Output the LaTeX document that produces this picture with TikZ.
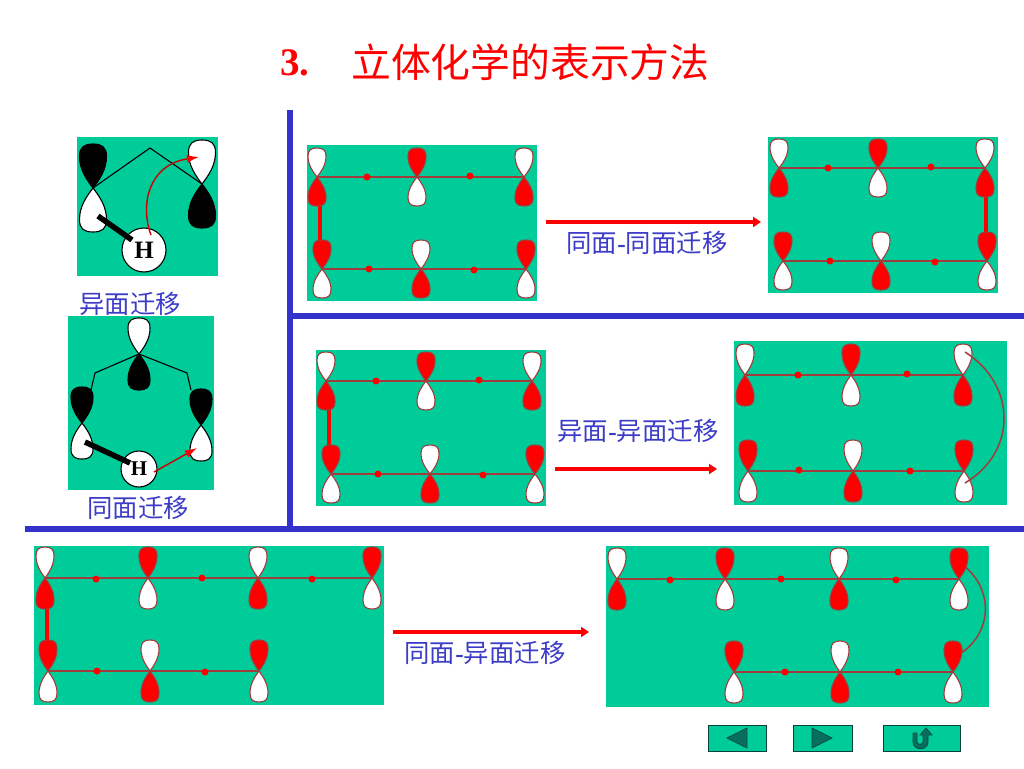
\documentclass[tikz,border=0pt]{standalone}
\usepackage{fontspec}
\setmainfont{Liberation Serif}
\newfontfamily\cjk{Noto Sans CJK SC}
\usetikzlibrary{arrows.meta}
\definecolor{panelgreen}{RGB}{0,204,153}
\definecolor{barblue}{RGB}{51,51,204}
\definecolor{lblblue}{RGB}{60,60,200}
\definecolor{orbred}{RGB}{255,0,0}
\definecolor{pibrown}{RGB}{160,60,60}
\definecolor{btndark}{RGB}{10,110,95}
\tikzset{
  panel/.style={fill=panelgreen,draw=none},
  bar/.style={draw=barblue,line width=6pt},
  pibond/.style={draw=pibrown,line width=1.5pt},
  sigmared/.style={draw=orbred,line width=4.5pt},
  dotnode/.style={circle,fill=orbred,draw=none,inner sep=0pt,minimum size=7pt},
  lobeline/.style={draw=pibrown,line width=1.1pt},
  blackline/.style={draw=black,line width=1.1pt},
  hbar/.style={draw=black,line width=5.5pt},
  hatom/.style={circle,fill=white,draw=black,line width=1.1pt,inner sep=0pt,font=\bfseries},
  redmove/.style={draw=orbred!80!black,line width=1.4pt,-{Latex[length=12pt,width=8pt,color=orbred]}},
  bigarrow/.style={draw=orbred,line width=3.2pt,-{Triangle[length=8pt,width=10pt]}},
  lbl/.style={inner sep=0pt,text=lblblue,font=\fontsize{25.4}{25.4}\selectfont\cjk},
  btn/.style={fill=panelgreen,draw=btndark!60!black,line width=1pt},
  btnmark/.style={fill=btndark,draw=btndark!70!black,line width=.8pt}
}
% lobe in unit coordinates, pointing up (y axis is downwards)
\newcommand{\lobepath}{(0,0) .. controls (-.5,-.2) and (-1,-.42) .. (-1,-.72) .. controls (-1,-.93) and (-.65,-1) .. (0,-1) .. controls (.65,-1) and (1,-.93) .. (1,-.72) .. controls (1,-.42) and (.5,-.2) .. (0,0) -- cycle}
\def\orbw{9}\def\orbh{29}\def\orbline{lobeline}
% \orb{name}{x}{y}{top colour}{bottom colour}
\newcommand{\orb}[5]{%
  \coordinate (#1) at (#2,#3);
  \path[\orbline,fill=#4,shift={(#2,#3)},xscale=\orbw,yscale=\orbh] \lobepath;
  \path[\orbline,fill=#5,shift={(#2,#3)},xscale=\orbw,yscale=-\orbh] \lobepath;
}
\begin{document}
\begin{tikzpicture}[x=1pt,y=-1pt]
\useasboundingbox (0,0) rectangle (1024,768);
\fill[white] (0,0) rectangle (1024,768);

% title
\node[inner sep=0pt,anchor=west,text=orbred,font=\fontsize{39}{39}\selectfont\bfseries] (title3) at (280,63) {3.};
\node[inner sep=0pt,anchor=west,text=orbred,font=\fontsize{39.8}{40}\selectfont\cjk] (title) at (351,62) {立体化学的表示方法};

% dividing bars
\coordinate (v1) at (290,110); \coordinate (v2) at (290,527);
\coordinate (h1) at (293,316); \coordinate (h2) at (1024,316);
\coordinate (h3) at (25,529);  \coordinate (h4) at (1024,529);
\draw[bar] (v1) -- (v2);
\draw[bar] (h1) -- (h2);
\draw[bar] (h3) -- (h4);

% left panel A
\fill[panel] (77,137) rectangle (218,276);
\def\orbline{blackline}
\coordinate (ra) at (150,148);
\def\orbw{13.5}\def\orbh{44}
\orb{la}{93}{188}{black}{white}
\orb{lb}{202}{184}{white}{black}
\draw[blackline] (la) -- (ra) -- (lb);
\node[hatom,minimum size=44pt,font=\fontsize{25}{25}\selectfont\bfseries] (ha) at (144,250) {H};
\coordinate (bara) at (98,216); \coordinate (barb) at (132,240);
\draw[hbar] (bara) -- (barb);
\coordinate (mva) at (151,235); \coordinate (mvb) at (199,157);
\draw[redmove] (mva) .. controls (140,205) and (148,165) .. (mvb);
\node[lbl] (tA) at (130,304) {异面迁移};

% left panel B
\fill[panel] (68,316) rectangle (214,490);
\def\orbw{11}\def\orbh{36}
\orb{tb}{139}{354}{white}{black}
\orb{lc}{82}{423}{black}{white}
\orb{rc}{201}{425}{black}{white}
\coordinate (k1) at (95,373); \coordinate (k2) at (91,390);
\coordinate (k3) at (187,373); \coordinate (k4) at (191,390);
\draw[blackline] (tb) -- (k1) -- (k2);
\draw[blackline] (tb) -- (k3) -- (k4);
\node[hatom,minimum size=36pt,font=\fontsize{21}{21}\selectfont\bfseries] (hb) at (139,469) {H};
\coordinate (barc) at (85,442); \coordinate (bard) at (130,463);
\draw[hbar] (barc) -- (bard);
\coordinate (mvc) at (154,472); \coordinate (mvd) at (197,448);
\draw[redmove] (mvc) -- (mvd);
\node[lbl] (tB) at (138,508) {同面迁移};

\def\orbline{lobeline}
% panel 1
\fill[panel] (307,145) rectangle (537,301);
\coordinate (s1a) at (320,190); \coordinate (s1b) at (320,255);
\draw[sigmared] (s1a) -- (s1b);
\def\orbw{9}\def\orbh{29}
\orb{a1}{317}{177}{white}{orbred}
\orb{a2}{417}{177}{orbred}{white}
\orb{a3}{524}{177}{white}{orbred}
\orb{b1}{322}{269}{orbred}{white}
\orb{b2}{421}{269}{white}{orbred}
\orb{b3}{526}{269}{orbred}{white}
\draw[pibond] (a1) -- (a2) -- (a3);
\draw[pibond] (b1) -- (b2) -- (b3);
\node[dotnode] (ad1) at (367,177) {}; \node[dotnode] (ad2) at (470,176) {};
\node[dotnode] (bd1) at (369,269) {}; \node[dotnode] (bd2) at (474,270) {};

% panel 2
\fill[panel] (768,137) rectangle (998,293);
\coordinate (s2a) at (986,182); \coordinate (s2b) at (986,247);
\draw[sigmared] (s2a) -- (s2b);
\orb{c1}{779}{168}{white}{orbred}
\orb{c2}{878}{168}{orbred}{white}
\orb{c3}{985}{168}{white}{orbred}
\orb{d1}{783}{261}{orbred}{white}
\orb{d2}{881}{261}{white}{orbred}
\orb{d3}{987}{261}{orbred}{white}
\draw[pibond] (c1) -- (c2) -- (c3);
\draw[pibond] (d1) -- (d2) -- (d3);
\node[dotnode] (cd1) at (828,168) {}; \node[dotnode] (cd2) at (931,167) {};
\node[dotnode] (dd1) at (830,261) {}; \node[dotnode] (dd2) at (935,262) {};

% panel 3
\fill[panel] (316,350) rectangle (546,506);
\coordinate (s3a) at (329,395); \coordinate (s3b) at (329,460);
\draw[sigmared] (s3a) -- (s3b);
\orb{e1}{326}{381}{white}{orbred}
\orb{e2}{426}{381}{orbred}{white}
\orb{e3}{532}{381}{white}{orbred}
\orb{f1}{331}{474}{orbred}{white}
\orb{f2}{430}{474}{white}{orbred}
\orb{f3}{535}{474}{orbred}{white}
\draw[pibond] (e1) -- (e2) -- (e3);
\draw[pibond] (f1) -- (f2) -- (f3);
\node[dotnode] (ed1) at (376,381) {}; \node[dotnode] (ed2) at (479,380) {};
\node[dotnode] (fd1) at (378,474) {}; \node[dotnode] (fd2) at (483,475) {};

% panel 4
\fill[panel] (734,341) rectangle (1007,505);
\def\orbw{9}\def\orbh{31}
\orb{g1}{745}{375}{white}{orbred}
\orb{g2}{851}{375}{orbred}{white}
\orb{g3}{963}{375}{white}{orbred}
\orb{h1o}{748}{471}{orbred}{white}
\orb{h2o}{853}{471}{white}{orbred}
\orb{h3o}{964}{471}{orbred}{white}
\draw[pibond] (g1) -- (g2) -- (g3);
\draw[pibond] (h1o) -- (h2o) -- (h3o);
\node[dotnode] (gd1) at (798,375) {}; \node[dotnode] (gd2) at (907,374) {};
\node[dotnode] (hd1) at (799,470) {}; \node[dotnode] (hd2) at (910,471) {};
\coordinate (arca) at (965,352); \coordinate (arcb) at (965,483);
\draw[pibond] (arca) .. controls (1017,385) and (1017,452) .. (arcb);

% panel 5
\fill[panel] (34,546) rectangle (384,705);
\coordinate (s5a) at (47,595); \coordinate (s5b) at (47,655);
\draw[sigmared] (s5a) -- (s5b);
\def\orbw{9}\def\orbh{31}
\orb{m1}{45}{578}{white}{orbred}
\orb{m2}{148}{578}{orbred}{white}
\orb{m3}{258}{578}{white}{orbred}
\orb{m4}{372}{578}{orbred}{white}
\orb{n1}{48}{671}{orbred}{white}
\orb{n2}{150}{671}{white}{orbred}
\orb{n3}{259}{671}{orbred}{white}
\draw[pibond] (m1) -- (m2) -- (m3) -- (m4);
\draw[pibond] (n1) -- (n2) -- (n3);
\node[dotnode] (md1) at (96,579) {}; \node[dotnode] (md2) at (202,578) {}; \node[dotnode] (md3) at (312,579) {};
\node[dotnode] (nd1) at (97,671) {}; \node[dotnode] (nd2) at (205,672) {};

% panel 6
\fill[panel] (606,546) rectangle (989,707);
\coordinate (arcc) at (963,565); \coordinate (arcd) at (958,655);
\draw[pibond] (arcc) .. controls (995,590) and (992,635) .. (arcd);
\orb{p1}{617}{579}{white}{orbred}
\orb{p2}{725}{579}{orbred}{white}
\orb{p3}{839}{579}{white}{orbred}
\orb{p4}{959}{579}{orbred}{white}
\orb{q1}{734}{672}{orbred}{white}
\orb{q2}{840}{672}{white}{orbred}
\orb{q3}{953}{672}{orbred}{white}
\draw[pibond] (p1) -- (p2) -- (p3) -- (p4);
\draw[pibond] (q1) -- (q2) -- (q3);
\node[dotnode] (pd1) at (670,580) {}; \node[dotnode] (pd2) at (781,579) {}; \node[dotnode] (pd3) at (896,580) {};
\node[dotnode] (qd1) at (785,672) {}; \node[dotnode] (qd2) at (898,672) {};

% reaction arrows and labels
\coordinate (ar1a) at (546,222); \coordinate (ar1b) at (761,222);
\coordinate (ar2a) at (555,469); \coordinate (ar2b) at (717,469);
\coordinate (ar3a) at (393,632); \coordinate (ar3b) at (589,632);
\draw[bigarrow] (ar1a) -- (ar1b);
\draw[bigarrow] (ar2a) -- (ar2b);
\draw[bigarrow] (ar3a) -- (ar3b);
\node[lbl] (l1) at (647,243) {同面{\rmfamily\bfseries -}同面迁移};
\node[lbl] (l2) at (638,431) {异面{\rmfamily\bfseries -}异面迁移};
\node[lbl] (l3) at (485,653) {同面{\rmfamily\bfseries -}异面迁移};

% navigation buttons
\path[btn] (708,725) rectangle (766,751);
\path[btn] (793,725) rectangle (852,751);
\path[btn] (883,725) rectangle (960,751);
\path[btnmark] (727,738) -- (747,728) -- (747,748) -- cycle;
\path[btnmark] (832,738) -- (812,728) -- (812,748) -- cycle;
\path[btnmark] (913,733) -- (917,733) -- (917,742) .. controls (917,745) and (923,745) .. (923,742) -- (923,735) -- (920,735) -- (926,728) -- (932,735) -- (928,735) -- (928,742) .. controls (928,751) and (913,751) .. (913,742) -- cycle;
\end{tikzpicture}
\end{document}
